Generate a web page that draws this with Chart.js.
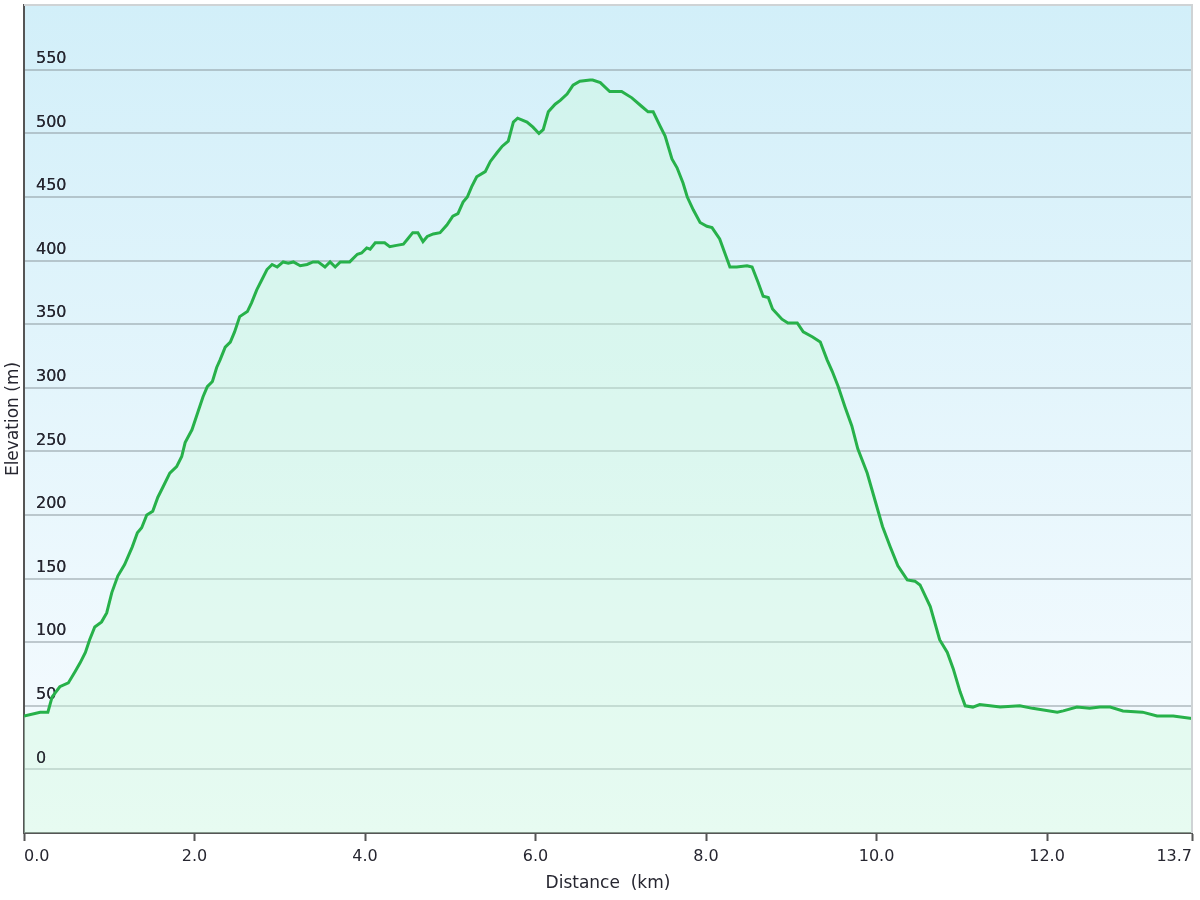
<!DOCTYPE html>
<html><head><meta charset="utf-8">
<style>html,body{margin:0;padding:0;background:#fff;} #wrap{width:1200px;height:900px;}</style>
<script src="https://cdn.jsdelivr.net/npm/chart.js@4.4.0/dist/chart.umd.min.js"></script>
</head><body><div id="wrap"><canvas id="c" width="1200" height="900"></canvas></div>
<script>
const distanceKm = [
  0.00, 0.19, 0.28, 0.33, 0.42, 0.52, 0.60, 0.66, 0.72, 0.77,
  0.83, 0.91, 0.97, 1.03, 1.10, 1.18, 1.27, 1.33, 1.38, 1.44,
  1.51, 1.57, 1.63, 1.71, 1.79, 1.85, 1.89, 1.97, 2.04, 2.10,
  2.15, 2.21, 2.26, 2.30, 2.36, 2.42, 2.47, 2.53, 2.62, 2.67,
  2.73, 2.79, 2.85, 2.91, 2.97, 3.04, 3.10, 3.16, 3.24,
  3.32, 3.39, 3.45, 3.53, 3.59, 3.65, 3.71, 3.82, 3.91, 3.96,
  4.02, 4.06, 4.12, 4.18, 4.23, 4.29, 4.37, 4.45, 4.50, 4.56,
  4.62, 4.68, 4.73, 4.80, 4.88, 4.96, 5.03, 5.09, 5.15, 5.20,
  5.25, 5.31, 5.41, 5.47, 5.55, 5.61, 5.68, 5.74, 5.79, 5.90,
  5.97, 6.04, 6.09, 6.15, 6.23, 6.29, 6.37, 6.44, 6.52, 6.64,
  6.67, 6.76,
  6.87, 7.01, 7.13, 7.25, 7.32, 7.38, 7.46, 7.52, 7.60, 7.66,
  7.73, 7.78, 7.85, 7.93, 8.01, 8.07, 8.16, 8.22, 8.28, 8.36,
  8.48, 8.54, 8.61, 8.67, 8.73, 8.78, 8.89, 8.96, 9.07, 9.14,
  9.25, 9.34, 9.42, 9.48, 9.55, 9.63, 9.71, 9.78, 9.89, 9.98,
  10.07, 10.16, 10.25, 10.36, 10.45, 10.51, 10.63, 10.74, 10.83, 10.90,
  10.98, 11.04, 11.13, 11.21, 11.33, 11.45, 11.68, 11.83, 12.12, 12.19,
  12.35, 12.50, 12.62, 12.74, 12.89, 13.12, 13.29, 13.48, 13.70
];
const elevationM = [
  42, 45, 45, 57, 65, 68, 77, 84, 92, 102,
  112, 116, 123, 139, 152, 161, 175, 186, 190, 200,
  203, 214, 222, 233, 238, 246, 257, 267, 281, 293,
  301, 305, 316, 322, 332, 336, 344, 356, 360, 367,
  377, 385, 393, 397, 395, 399, 398, 399, 396,
  397, 399, 399, 395, 399, 395, 399, 399, 405, 406,
  410, 409, 414, 414, 414, 411, 412, 413, 417, 422,
  422, 415, 419, 421, 422, 428, 435, 437, 446, 450,
  458, 466, 470, 478, 485, 490, 494, 509, 512, 509,
  505, 500, 503, 517, 523, 526, 531, 538, 541, 542,
  542, 540,
  533, 533, 528, 521, 517, 517, 506, 498, 480, 473,
  461, 450, 440, 430, 427, 426, 417, 406, 395, 395,
  396, 395, 383, 372, 371, 362, 354, 351, 351, 344,
  340, 336, 322, 313, 301, 285, 270, 252, 233, 212,
  191, 175, 160, 149, 148, 145, 128, 102, 92, 79,
  61, 50, 49, 51, 50, 49, 50, 48, 45, 46,
  49, 48, 49, 49, 46, 45, 42, 42, 40
];
const yTickValues = [0, 50, 100, 150, 200, 250, 300, 350, 400, 450, 500, 550];
const xTickValues = [0, 2, 4, 6, 8, 10, 12, 13.7];

const FONT = "'DejaVu Sans', Verdana, sans-serif";

const bgPlugin = {
  id: 'bg',
  beforeDraw(chart) {
    const {ctx, chartArea: a} = chart;
    const g = ctx.createLinearGradient(0, a.top, 0, a.bottom);
    g.addColorStop(0, '#d2eff9');
    g.addColorStop(1, '#f8fcff');
    ctx.save();
    ctx.fillStyle = g;
    ctx.fillRect(a.left, a.top, a.right - a.left, a.bottom - a.top);
    ctx.restore();
  },
  beforeDatasetDraw(chart) {
    // fill has been drawn already; put the y labels back on top of it
    chart.scales.y.drawLabels(chart.chartArea);
  },
  afterDraw(chart) {
    const {ctx, chartArea: a} = chart;
    ctx.save();
    ctx.strokeStyle = '#cfd3d5';
    ctx.lineWidth = 2;
    ctx.beginPath();
    ctx.moveTo(a.left, a.top);
    ctx.lineTo(a.right, a.top);
    ctx.lineTo(a.right, a.bottom);
    ctx.stroke();
    ctx.restore();
  }
};

const points = distanceKm.map((d, i) => ({x: d, y: elevationM[i]}));

new Chart(document.getElementById('c'), {
  type: 'line',
  data: {
    datasets: [{
      data: points,
      borderColor: '#27b14a',
      borderWidth: 3,
      backgroundColor: 'rgba(205,250,220,0.4)',
      fill: 'start',
      pointRadius: 0,
      tension: 0
    }]
  },
  options: {
    responsive: false,
    animation: false,
    layout: {padding: {top: 5, right: 8, left: 0, bottom: 0}},
    plugins: {
      legend: {display: false},
      tooltip: {enabled: false},
      filler: {drawTime: 'beforeDatasetDraw'}
    },
    scales: {
      x: {
        type: 'linear', position: 'bottom', min: 0, max: 13.7,
        afterBuildTicks: s => { s.ticks = xTickValues.map(v => ({value: v})); },
        afterFit: s => { s.height = 67; s.paddingLeft = 0; s.paddingRight = 0; },
        ticks: {
          align: 'inner', padding: 6, color: '#262630', maxRotation: 0, autoSkip: false,
          font: {family: FONT, size: 16},
          callback: v => Number(v).toFixed(1)
        },
        grid: {display: true, drawOnChartArea: false, drawTicks: true, tickLength: 8, tickColor: '#555', tickWidth: 2},
        border: {display: true, color: '#555', width: 2},
        title: {display: true, text: 'Distance  (km)', color: '#262630', font: {family: FONT, size: 17}, padding: {top: 4, bottom: 6}}
      },
      y: {
        type: 'linear', min: -50, max: 601,
        afterBuildTicks: s => { s.ticks = yTickValues.map(v => ({value: v})); },
        afterFit: s => { s.width = 24; s.paddingTop = 0; s.paddingBottom = 0; },
        ticks: {
          mirror: true, padding: 12, labelOffset: -11, color: '#262630',
          font: {family: FONT, size: 16},
          callback: v => String(v)
        },
        grid: {color: 'rgba(140,152,158,0.5)', lineWidth: 2, drawTicks: false},
        border: {display: true, color: '#555', width: 2},
        title: {display: true, text: 'Elevation (m)', color: '#262630', font: {family: FONT, size: 17}, padding: {top: 3, bottom: 4}}
      }
    }
  },
  plugins: [bgPlugin]
});
</script>
</body></html>
